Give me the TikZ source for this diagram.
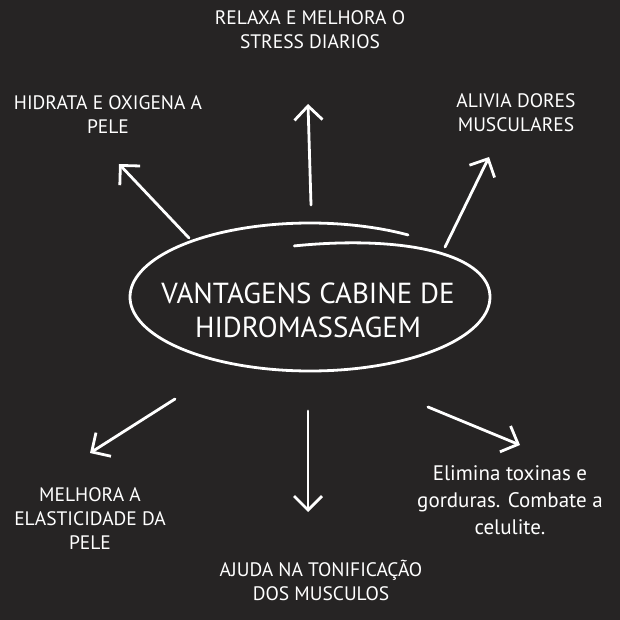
\documentclass[tikz,border=0pt]{standalone}
\usepackage{fontspec}
\setmainfont{PT Sans}
\usetikzlibrary{arrows.meta, positioning}

\definecolor{board}{RGB}{38,36,36}

\begin{document}
\begin{tikzpicture}[x=1pt, y=-1pt,
        stroke/.style={white, line width=2.8pt, line cap=round},
        arr/.style={stroke, -{Straight Barb[length=14pt, width=28pt]}},
        label/.style={text=white, align=center, inner sep=0pt, font=\fontsize{19.5}{24}\selectfont},
        title/.style={label, font=\fontsize{29}{34}\selectfont}]
        \useasboundingbox (0,0) rectangle (620,620);
        \fill[board] (0,0) rectangle (620,620);

        % centre
        \node[title] (core) at (308,310) {VANTAGENS CABINE DE\\HIDROMASSAGEM};
        \draw[stroke] plot[domain=95:-303, samples=160, smooth]
            ({310+180*cos(\x)}, {297-(74-22*max(0,\x)/92)*sin(\x)});

        % benefits
        \node[label] (relax) at (310,30) {RELAXA E MELHORA O\\STRESS DIARIOS};
        \node[label] (hidrata) at (108,115) {HIDRATA E OXIGENA A\\PELE};
        \node[label] (alivia) at (516,113) {ALIVIA DORES\\MUSCULARES};
        \node[label] (elastic) at (90,519) {MELHORA A\\ELASTICIDADE DA\\PELE};
        \node[label] (tonus) at (321,580) {AJUDA NA TONIFICAÇÃO\\DOS MUSCULOS};
        \node[label, font=\fontsize{21}{27}\selectfont] (toxinas) at (510,500) {Elimina toxinas e\\gorduras. Combate a\\celulite.};

        \coordinate (relaxT) at (311,205);   \coordinate (relaxH) at (308,104);
        \coordinate (hidrataT) at (189,238); \coordinate (hidrataH) at (119,164);
        \coordinate (aliviaT) at (445,247);  \coordinate (aliviaH) at (489,157);
        \coordinate (elasticT) at (175,399); \coordinate (elasticH) at (90,453);
        \coordinate (tonusT) at (308,411);   \coordinate (tonusH) at (308,512);
        \coordinate (toxinasT) at (428,407); \coordinate (toxinasH) at (520,445);

        \draw[arr] (relaxT) -- (relaxH);
        \draw[arr] (hidrataT) -- (hidrataH);
        \draw[arr] (aliviaT) -- (aliviaH);
        \draw[arr] (elasticT) -- (elasticH);
        \draw[arr] (tonusT) -- (tonusH);
        \draw[arr] (toxinasT) -- (toxinasH);
    \end{tikzpicture}
\end{document}
